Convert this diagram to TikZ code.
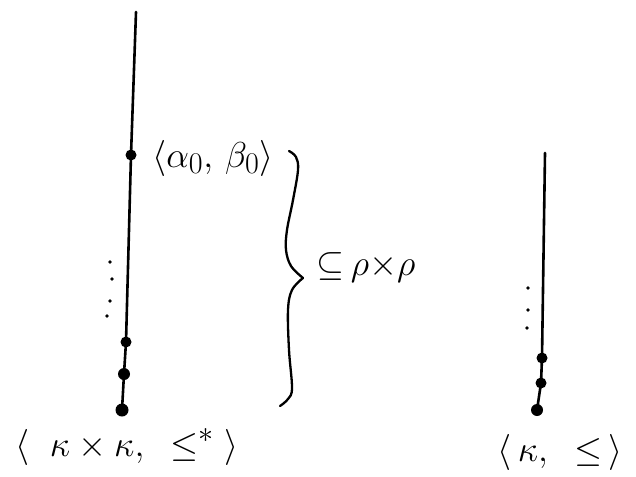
\documentclass[tikz,border=0pt]{standalone}
\usepackage{amsmath,amssymb}
\begin{document}
\begin{tikzpicture}[x=1pt,y=-1pt,
  dot/.style={circle,fill=black,inner sep=0pt,minimum size=11pt},
  sdot/.style={circle,fill=black,inner sep=0pt,minimum size=3.8pt},
  chain/.style={line width=2.6pt,line cap=round},
  bracestroke/.style={line width=2.3pt,line cap=round,line join=round},
  lbl/.style={inner sep=0pt,font=\Huge,scale=1.45}]
\useasboundingbox[fill=white] (0,0) rectangle (636,476);
% left chain
\coordinate (ltop) at (136,12);
\node[dot] (a0) at (131,155) {};
\node[dot] (l1) at (126,342) {};
\node[dot,minimum size=12pt] (l2) at (124,374) {};
\node[dot,minimum size=13pt] (l3) at (122,410) {};
\draw[chain] (ltop) -- (a0.center) -- (l1.center) -- (l2.center) -- (l3.center);
\node[sdot] (ld1) at (110,262) {};
\node[sdot] (ld2) at (112,279) {};
\node[sdot] (ld3) at (110,301) {};
\node[sdot] (ld4) at (107,316) {};
% right chain
\coordinate (rtop) at (545,153);
\node[dot] (r1) at (542,358) {};
\node[dot] (r2) at (541,383) {};
\node[dot,minimum size=12pt] (r3) at (537,410) {};
\draw[chain] (rtop) -- (r1.center) -- (r2.center) -- (r3.center);
\node[sdot] (rd1) at (528,288) {};
\node[sdot] (rd2) at (528,310) {};
\node[sdot] (rd3) at (527,328) {};
% brace
\draw[bracestroke] plot[smooth,tension=0.6] coordinates {(289,151) (296,157) (298,170) (293,200) (287,230) (286,250) (291,266) (303,278)};
\draw[bracestroke] plot[smooth,tension=0.6] coordinates {(303,278) (292,290) (288,310) (289,350) (292,388) (288,399) (280,406)};
% labels
\node[lbl] (ab) at (213,158) {$\langle\alpha_0,\,\beta_0\rangle$};
\node[lbl] (rr) at (366,268) {${\subseteq}\,\rho{\times}\rho$};
\node[lbl] (kk) at (127,447) {$\langle\;\;\kappa\times\kappa,\;\;\le^{*}\;\rangle$};
\node[lbl] (k) at (560,452) {$\langle\,\kappa,\;\;\le\,\rangle$};
\end{tikzpicture}
\end{document}
